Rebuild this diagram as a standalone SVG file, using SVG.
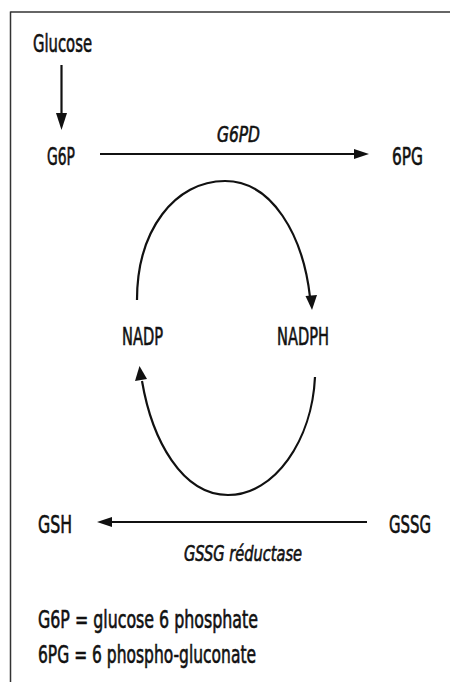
<svg xmlns="http://www.w3.org/2000/svg" width="450" height="682" viewBox="0 0 450 682">
<style>
  text { font-family: "Liberation Sans Narrow", "DejaVu Sans Condensed", "Liberation Sans", sans-serif; font-size: 24px; fill: #111; stroke: #111; stroke-width: 0.6; }
  .it { font-style: italic; font-size: 21px; }
  .line { stroke: #111; stroke-width: 2.2; fill: none; }
  .head { fill: #111; stroke: none; }
  .frame { stroke: #333; stroke-width: 1.5; fill: none; }
</style>
<rect width="450" height="682" fill="#fff"/>
<g id="frame">
  <line class="frame" x1="10.5" y1="12" x2="450" y2="12"/>
  <line class="frame" x1="10.5" y1="11.5" x2="10.5" y2="682"/>
</g>
<g id="connectors">
  <line class="line" x1="61.5" y1="65" x2="61.5" y2="116"/>
  <polygon class="head" points="56,113 67,113 61.5,130"/>
  <line class="line" x1="100" y1="154" x2="357" y2="154"/>
  <polygon class="head" points="354,149 369,154 354,159"/>
  <path class="line" d="M137,300 C137,230 175,181 225,181 C272,181 303,235 310,297"/>
  <polygon class="head" points="305.5,296 317,295 312,310"/>
  <path class="line" d="M315,377 C312,440 275,495 228,495 C182,495 152,440 142,381"/>
  <polygon class="head" points="135,381 147,379 139.5,366"/>
  <line class="line" x1="110" y1="522" x2="367" y2="522"/>
  <polygon class="head" points="112,517 97,522 112,527"/>
</g>
<g id="glucose"><text x="33" y="52" textLength="59" lengthAdjust="spacingAndGlyphs">Glucose</text></g>
<g id="g6p"><text x="47" y="165" textLength="28" lengthAdjust="spacingAndGlyphs">G6P</text></g>
<g id="g6pd"><text class="it" x="217" y="142" textLength="43" lengthAdjust="spacingAndGlyphs">G6PD</text></g>
<g id="pg6"><text x="392" y="165" textLength="31" lengthAdjust="spacingAndGlyphs">6PG</text></g>
<g id="nadp"><text x="122" y="345" textLength="41" lengthAdjust="spacingAndGlyphs">NADP</text></g>
<g id="nadph"><text x="277" y="345" textLength="52" lengthAdjust="spacingAndGlyphs">NADPH</text></g>
<g id="gsh"><text x="38" y="533" textLength="34" lengthAdjust="spacingAndGlyphs">GSH</text></g>
<g id="gssg"><text x="389" y="533" textLength="42" lengthAdjust="spacingAndGlyphs">GSSG</text></g>
<g id="reductase"><text class="it" x="184" y="561" textLength="118" lengthAdjust="spacingAndGlyphs">GSSG réductase</text></g>
<g id="legend">
  <text x="38" y="628" textLength="220" lengthAdjust="spacingAndGlyphs">G6P = glucose 6 phosphate</text>
  <text x="38" y="663" textLength="218" lengthAdjust="spacingAndGlyphs">6PG = 6 phospho-gluconate</text>
</g>
</svg>
